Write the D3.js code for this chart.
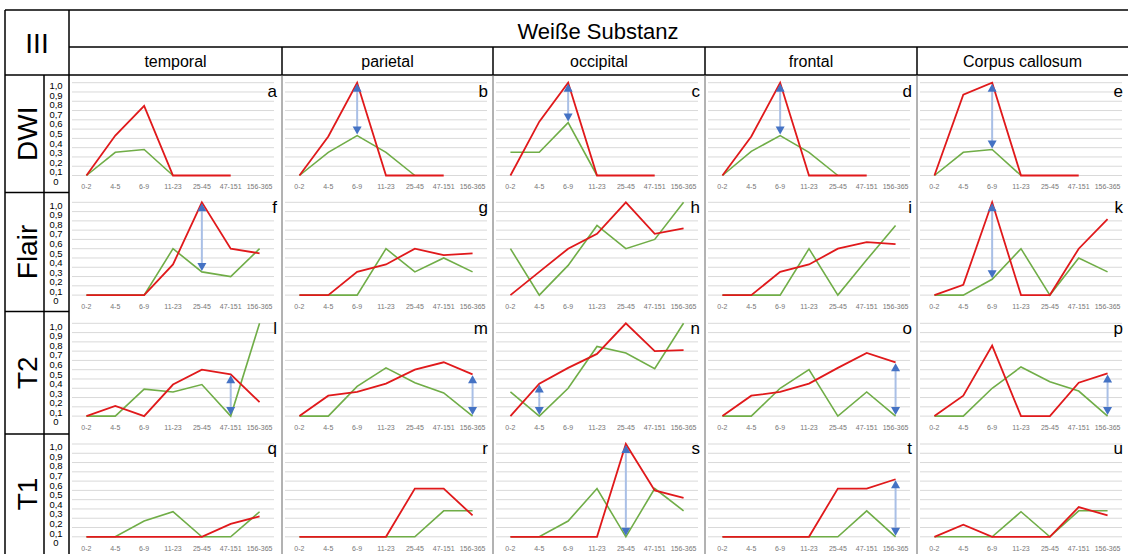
<!DOCTYPE html>
<html>
<head>
<meta charset="utf-8">
<script src="https://cdn.jsdelivr.net/npm/d3@7"></script>
<style>
  body { margin: 0; background: #fff; }
  text { font-family: "Liberation Sans", Arial, sans-serif; }
</style>
</head>
<body>
<script>
// Age groups on the x axis, column and row headers
var categories = ["0-2", "4-5", "6-9", "11-23", "25-45", "47-151", "156-365"];
var regions = ["temporal", "parietal", "occipital", "frontal", "Corpus callosum"];
var sequences = ["DWI", "Flair", "T2", "T1"];
var panelLetters = [
  ["a", "b", "c", "d", "e"],
  ["f", "g", "h", "i", "k"],
  ["l", "m", "n", "o", "p"],
  ["q", "r", "s", "t", "u"]
];
var tickLabels = ["0", "0,1", "0,2", "0,3", "0,4", "0,5", "0,6", "0,7", "0,8", "0,9", "1,0"];

// one list per region (temporal .. corpus callosum)
var redDWI = [
  [0, 0.43, 0.75, 0, 0, 0, null],
  [0, 0.42, 1, 0, 0, 0, null],
  [0, 0.58, 1, 0, 0, 0, null],
  [0, 0.42, 1, 0, 0, 0, null],
  [0, 0.87, 1, 0, 0, 0, null]
];
var greenDWI = [
  [0, 0.25, 0.28, 0, null, null, null],
  [0, 0.25, 0.43, 0.25, 0, null, null],
  [0.25, 0.25, 0.57, 0, null, null, null],
  [0, 0.26, 0.43, 0.25, 0, null, null],
  [0, 0.25, 0.28, 0, null, null, null]
];
var redFlair = [
  [0, 0, 0, 0.33, 1, 0.5, 0.45],
  [0, 0, 0.25, 0.33, 0.5, 0.43, 0.45],
  [0, 0.25, 0.5, 0.66, 1, 0.66, 0.72],
  [0, 0, 0.25, 0.33, 0.5, 0.57, 0.55],
  [0, 0.11, 1, 0, 0, 0.5, 0.82]
];
var greenFlair = [
  [0, 0, 0, 0.5, 0.25, 0.2, 0.5],
  [0, 0, 0, 0.5, 0.25, 0.4, 0.25],
  [0.5, 0, 0.32, 0.75, 0.5, 0.6, 1],
  [0, 0, 0, 0.5, 0, 0.38, 0.75],
  [0, 0, 0.17, 0.5, 0, 0.4, 0.25]
];
var redT2 = [
  [0, 0.11, 0, 0.34, 0.5, 0.45, 0.15],
  [0, 0.22, 0.26, 0.35, 0.5, 0.58, 0.45],
  [0, 0.35, 0.52, 0.67, 1, 0.7, 0.71],
  [0, 0.22, 0.26, 0.35, 0.52, 0.68, 0.58],
  [0, 0.22, 0.76, 0, 0, 0.36, 0.46]
];
var greenT2 = [
  [0, 0, 0.29, 0.26, 0.34, 0, 1],
  [0, 0, 0.32, 0.52, 0.36, 0.25, 0],
  [0.26, 0, 0.3, 0.75, 0.68, 0.51, 1],
  [0, 0, 0.3, 0.5, 0, 0.26, 0],
  [0, 0, 0.3, 0.53, 0.37, 0.27, 0]
];
var redT1 = [
  [0, 0, 0, 0, 0, 0.14, 0.22],
  [0, 0, 0, 0, 0.52, 0.52, 0.23],
  [0, 0, 0, 0, 1, 0.5, 0.42],
  [0, 0, 0, 0, 0.52, 0.52, 0.62],
  [0, 0.13, 0, 0, 0, 0.32, 0.23]
];
var greenT1 = [
  [0, 0, 0.17, 0.27, 0, 0, 0.27],
  [0, 0, 0, 0, 0, 0.28, 0.28],
  [0, 0, 0.17, 0.52, 0, 0.52, 0.28],
  [0, 0, 0, 0, 0, 0.28, 0],
  [0, 0, 0, 0.27, 0, 0.28, 0.28]
];

// double arrows: [row, column, category]
var arrows = [
  [0, 1, "6-9"], [0, 2, "6-9"], [0, 3, "6-9"], [0, 4, "6-9"],
  [1, 0, "25-45"], [1, 4, "6-9"],
  [2, 0, "47-151"], [2, 1, "156-365"], [2, 2, "4-5"], [2, 3, "156-365"], [2, 4, "156-365"],
  [3, 2, "25-45"], [3, 3, "156-365"]
];

var redRows = [redDWI, redFlair, redT2, redT1];
var greenRows = [greenDWI, greenFlair, greenT2, greenT1];

// page layout
var width = 1128, height = 554;
var colEdges = [69, 282, 493, 705, 917, 1128];
var rowEdges = [75, 192.5, 311.5, 434, 554];
var plotTops = [82.7, 202.3, 323.3, 444];
var plotH = 92.8, plotW = 202;
var letterOffset = [14, 11, 11, 10];

var svg = d3.select("body").append("svg")
  .attr("width", width)
  .attr("height", height);

// table lines
var grid = svg.append("g").attr("stroke", "#000").attr("stroke-width", 1.5);
grid.append("line").attr("x1", 5).attr("x2", width).attr("y1", 10).attr("y2", 10);
grid.append("line").attr("x1", 5).attr("x2", 5).attr("y1", 10).attr("y2", height);
grid.append("line").attr("x1", 69).attr("x2", 69).attr("y1", 10).attr("y2", height);
grid.append("line").attr("x1", 69).attr("x2", width).attr("y1", 47).attr("y2", 47);
grid.append("line").attr("x1", 5).attr("x2", width).attr("y1", 75).attr("y2", 75);
grid.append("line").attr("x1", 44).attr("x2", 44).attr("y1", 75).attr("y2", height);
rowEdges.slice(1, 4).forEach(function(y) {
  grid.append("line").attr("x1", 5).attr("x2", 69).attr("y1", y).attr("y2", y);
});
colEdges.slice(1, 5).forEach(function(x) {
  grid.append("line").attr("x1", x).attr("x2", x).attr("y1", 47).attr("y2", 75);
  svg.append("line").attr("x1", x).attr("x2", x).attr("y1", 75).attr("y2", height)
    .attr("stroke", "#666").attr("stroke-width", 1);
});

// headers
svg.append("text").attr("x", 37).attr("y", 53).attr("text-anchor", "middle")
  .attr("font-size", 28).text("III");
svg.append("text").attr("x", 598).attr("y", 39).attr("text-anchor", "middle")
  .attr("font-size", 22).text("Weiße Substanz");
regions.forEach(function(r, i) {
  svg.append("text")
    .attr("x", (colEdges[i] + colEdges[i + 1]) / 2)
    .attr("y", 67)
    .attr("text-anchor", "middle")
    .attr("font-size", 16)
    .text(r);
});

var line = d3.line()
  .defined(function(d) { return d.v != null; })
  .x(function(d) { return d.x; })
  .y(function(d) { return d.y; });

sequences.forEach(function(seq, r) {
  var top = plotTops[r];
  var y = d3.scaleLinear().domain([0, 1]).range([top + plotH, top]);

  // row label
  svg.append("text")
    .attr("transform", "translate(37," + ((rowEdges[r] + rowEdges[r + 1]) / 2) + ") rotate(-90)")
    .attr("text-anchor", "middle")
    .attr("font-size", 28)
    .text(seq);

  // y tick labels (sit in their own column)
  var yLab = d3.scaleLinear().domain([0, tickLabels.length - 1]).range([top + plotH + 6, top + 3]);
  svg.append("g").selectAll("text")
    .data(tickLabels)
    .enter().append("text")
    .attr("x", 56)
    .attr("y", function(d, i) { return yLab(i); })
    .attr("dy", "0.35em")
    .attr("text-anchor", "middle")
    .attr("font-size", 9.5)
    .text(function(d) { return d; });

  regions.forEach(function(reg, c) {
    var left = colEdges[c] + 3;
    var x = d3.scaleBand().domain(categories).range([left, left + plotW]);
    var cx = function(k) { return x(k) + x.bandwidth() / 2; };
    var g = svg.append("g");

    // gridlines
    g.selectAll(".grid")
      .data(y.ticks(10))
      .enter().append("line")
      .attr("x1", left).attr("x2", left + plotW)
      .attr("y1", function(d) { return y(d); })
      .attr("y2", function(d) { return y(d); })
      .attr("stroke", "#d9d9d9").attr("stroke-width", 1);

    // x axis labels
    var xAxis = g.append("g")
      .attr("transform", "translate(0," + (top + plotH + 6) + ")")
      .call(d3.axisBottom(x).tickSize(0));
    xAxis.select(".domain").remove();
    xAxis.selectAll("text").attr("font-size", 7).attr("fill", "#777")
      .attr("font-family", "'Liberation Sans', sans-serif");

    var greenPts = greenRows[r][c].map(function(v, i) {
      return { v: v, x: cx(categories[i]), y: y(v || 0) };
    });
    var redPts = redRows[r][c].map(function(v, i) {
      return { v: v, x: cx(categories[i]), y: y(v || 0) };
    });

    g.append("path").attr("d", line(greenPts))
      .attr("fill", "none").attr("stroke", "#70ad47").attr("stroke-width", 1.6);
    g.append("path").attr("d", line(redPts))
      .attr("fill", "none").attr("stroke", "#e0191b").attr("stroke-width", 1.8);

    // panel letter
    g.append("text")
      .attr("x", colEdges[c + 1] - 5)
      .attr("y", top + letterOffset[r])
      .attr("text-anchor", "end")
      .attr("font-size", 17)
      .text(panelLetters[r][c]);
  });
});

// difference arrows
arrows.forEach(function(a) {
  var r = a[0], c = a[1], k = categories.indexOf(a[2]);
  var top = plotTops[r];
  var y = d3.scaleLinear().domain([0, 1]).range([top + plotH, top]);
  var left = colEdges[c] + 3;
  var x = d3.scaleBand().domain(categories).range([left, left + plotW]);
  var px = x(a[2]) + x.bandwidth() / 2;
  var y1 = y(redRows[r][c][k]) + 1, y2 = y(greenRows[r][c][k]) - 1;
  var g = svg.append("g");
  g.append("line").attr("x1", px).attr("x2", px).attr("y1", y1 + 6).attr("y2", y2 - 6)
    .attr("stroke", "#a9bfe6").attr("stroke-width", 2);
  g.append("path").attr("d", "M" + px + "," + y1 + "l4.5,8h-9z").attr("fill", "#4472c4");
  g.append("path").attr("d", "M" + px + "," + y2 + "l4.5,-8h-9z").attr("fill", "#4472c4");
});
</script>
</body>
</html>
